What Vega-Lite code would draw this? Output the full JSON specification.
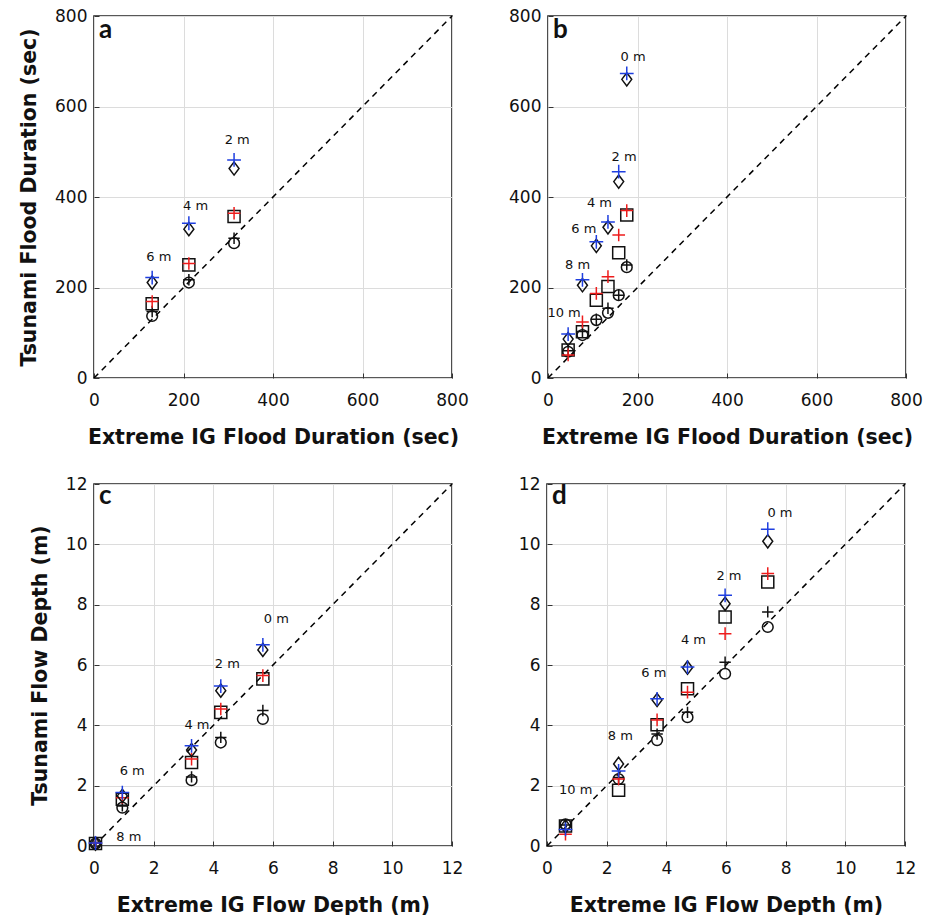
{
  "$schema": "https://vega.github.io/schema/vega-lite/v6.json",
  "padding": {"left": 18, "top": 6, "right": 5, "bottom": 5},
  "background": "white",
  "config": {
    "view": {"stroke": "#222", "strokeWidth": 1.6},
    "axis": {
      "labelFont": "DejaVu Sans", "labelFontSize": 17, "labelColor": "#111",
      "titleFont": "DejaVu Sans", "titleFontSize": 20.5, "titleFontWeight": "bold", "titleColor": "#111",
      "gridColor": "#dcdcdc", "gridWidth": 1, "domain": false,
      "ticks": true, "tickColor": "#333", "tickSize": -5, "tickWidth": 1,
      "labelFlush": false, "labelOverlap": false
    },
    "axisX": {"labelPadding": 19, "titlePadding": 19},
    "axisY": {"labelPadding": 12, "titlePadding": 15}
  },
  "datasets": {
    "diagA": [{"v": 0}, {"v": 800}],
    "diagC": [{"v": 0}, {"v": 12}],
    "pa": [
      {"ig": 313, "ts": 298, "s": "circle"}, {"ig": 313, "ts": 309, "s": "kplus"}, {"ig": 313, "ts": 357, "s": "square"}, {"ig": 313, "ts": 364, "s": "rplus"}, {"ig": 313, "ts": 463, "s": "diamond"}, {"ig": 313, "ts": 482, "s": "bplus"},
      {"ig": 212, "ts": 211, "s": "circle"}, {"ig": 212, "ts": 217, "s": "kplus"}, {"ig": 212, "ts": 250, "s": "square"}, {"ig": 212, "ts": 253, "s": "rplus"}, {"ig": 212, "ts": 329, "s": "diamond"}, {"ig": 212, "ts": 342, "s": "bplus"},
      {"ig": 130, "ts": 137, "s": "circle"}, {"ig": 130, "ts": 147, "s": "kplus"}, {"ig": 130, "ts": 164, "s": "square"}, {"ig": 130, "ts": 169, "s": "rplus"}, {"ig": 130, "ts": 211, "s": "diamond"}, {"ig": 130, "ts": 222, "s": "bplus"}
    ],
    "pb": [
      {"ig": 176, "ts": 245, "s": "circle"}, {"ig": 176, "ts": 250, "s": "kplus"}, {"ig": 176, "ts": 360, "s": "square"}, {"ig": 176, "ts": 370, "s": "rplus"}, {"ig": 176, "ts": 660, "s": "diamond"}, {"ig": 176, "ts": 673, "s": "bplus"},
      {"ig": 158, "ts": 183, "s": "circle"}, {"ig": 158, "ts": 183, "s": "kplus"}, {"ig": 158, "ts": 277, "s": "square"}, {"ig": 158, "ts": 316, "s": "rplus"}, {"ig": 158, "ts": 434, "s": "diamond"}, {"ig": 158, "ts": 456, "s": "bplus"},
      {"ig": 134, "ts": 144, "s": "circle"}, {"ig": 134, "ts": 154, "s": "kplus"}, {"ig": 134, "ts": 202, "s": "square"}, {"ig": 134, "ts": 224, "s": "rplus"}, {"ig": 134, "ts": 333, "s": "diamond"}, {"ig": 134, "ts": 345, "s": "bplus"},
      {"ig": 108, "ts": 128, "s": "circle"}, {"ig": 108, "ts": 130, "s": "kplus"}, {"ig": 108, "ts": 172, "s": "square"}, {"ig": 108, "ts": 187, "s": "rplus"}, {"ig": 108, "ts": 292, "s": "diamond"}, {"ig": 108, "ts": 301, "s": "bplus"},
      {"ig": 77, "ts": 95, "s": "circle"}, {"ig": 77, "ts": 103, "s": "kplus"}, {"ig": 77, "ts": 102, "s": "square"}, {"ig": 77, "ts": 124, "s": "rplus"}, {"ig": 77, "ts": 205, "s": "diamond"}, {"ig": 77, "ts": 217, "s": "bplus"},
      {"ig": 45, "ts": 58, "s": "circle"}, {"ig": 45, "ts": 60, "s": "kplus"}, {"ig": 45, "ts": 62, "s": "square"}, {"ig": 45, "ts": 51, "s": "rplus"}, {"ig": 45, "ts": 86, "s": "diamond"}, {"ig": 45, "ts": 97, "s": "bplus"}
    ],
    "pc": [
      {"ig": 5.66, "ts": 4.21, "s": "circle"}, {"ig": 5.66, "ts": 4.49, "s": "kplus"}, {"ig": 5.66, "ts": 5.54, "s": "square"}, {"ig": 5.66, "ts": 5.65, "s": "rplus"}, {"ig": 5.66, "ts": 6.5, "s": "diamond"}, {"ig": 5.66, "ts": 6.67, "s": "bplus"},
      {"ig": 4.25, "ts": 3.43, "s": "circle"}, {"ig": 4.25, "ts": 3.6, "s": "kplus"}, {"ig": 4.25, "ts": 4.43, "s": "square"}, {"ig": 4.25, "ts": 4.54, "s": "rplus"}, {"ig": 4.25, "ts": 5.15, "s": "diamond"}, {"ig": 4.25, "ts": 5.3, "s": "bplus"},
      {"ig": 3.27, "ts": 2.18, "s": "circle"}, {"ig": 3.27, "ts": 2.29, "s": "kplus"}, {"ig": 3.27, "ts": 2.77, "s": "square"}, {"ig": 3.27, "ts": 2.88, "s": "rplus"}, {"ig": 3.27, "ts": 3.18, "s": "diamond"}, {"ig": 3.27, "ts": 3.32, "s": "bplus"},
      {"ig": 0.95, "ts": 1.27, "s": "circle"}, {"ig": 0.95, "ts": 1.33, "s": "kplus"}, {"ig": 0.95, "ts": 1.55, "s": "square"}, {"ig": 0.95, "ts": 1.6, "s": "rplus"}, {"ig": 0.95, "ts": 1.66, "s": "diamond"}, {"ig": 0.95, "ts": 1.77, "s": "bplus"},
      {"ig": 0.05, "ts": 0.08, "s": "circle"}, {"ig": 0.05, "ts": 0.1, "s": "kplus"}, {"ig": 0.05, "ts": 0.08, "s": "square"}, {"ig": 0.05, "ts": 0.1, "s": "rplus"}, {"ig": 0.05, "ts": 0.08, "s": "diamond"}, {"ig": 0.05, "ts": 0.1, "s": "bplus"}
    ],
    "pd": [
      {"ig": 7.4, "ts": 7.26, "s": "circle"}, {"ig": 7.4, "ts": 7.76, "s": "kplus"}, {"ig": 7.4, "ts": 8.75, "s": "square"}, {"ig": 7.4, "ts": 9.03, "s": "rplus"}, {"ig": 7.4, "ts": 10.1, "s": "diamond"}, {"ig": 7.4, "ts": 10.5, "s": "bplus"},
      {"ig": 5.97, "ts": 5.71, "s": "circle"}, {"ig": 5.97, "ts": 6.09, "s": "kplus"}, {"ig": 5.97, "ts": 7.59, "s": "square"}, {"ig": 5.97, "ts": 7.04, "s": "rplus"}, {"ig": 5.97, "ts": 8.03, "s": "diamond"}, {"ig": 5.97, "ts": 8.31, "s": "bplus"},
      {"ig": 4.71, "ts": 4.27, "s": "circle"}, {"ig": 4.71, "ts": 4.43, "s": "kplus"}, {"ig": 4.71, "ts": 5.21, "s": "square"}, {"ig": 4.71, "ts": 5.1, "s": "rplus"}, {"ig": 4.71, "ts": 5.91, "s": "diamond"}, {"ig": 4.71, "ts": 5.93, "s": "bplus"},
      {"ig": 3.69, "ts": 3.51, "s": "circle"}, {"ig": 3.69, "ts": 3.71, "s": "kplus"}, {"ig": 3.69, "ts": 4.02, "s": "square"}, {"ig": 3.69, "ts": 4.18, "s": "rplus"}, {"ig": 3.69, "ts": 4.84, "s": "diamond"}, {"ig": 3.69, "ts": 4.88, "s": "bplus"},
      {"ig": 2.4, "ts": 2.22, "s": "circle"}, {"ig": 2.4, "ts": 2.27, "s": "kplus"}, {"ig": 2.4, "ts": 1.85, "s": "square"}, {"ig": 2.4, "ts": 2.22, "s": "rplus"}, {"ig": 2.4, "ts": 2.72, "s": "diamond"}, {"ig": 2.4, "ts": 2.49, "s": "bplus"},
      {"ig": 0.62, "ts": 0.72, "s": "circle"}, {"ig": 0.62, "ts": 0.7, "s": "kplus"}, {"ig": 0.62, "ts": 0.66, "s": "square"}, {"ig": 0.62, "ts": 0.39, "s": "rplus"}, {"ig": 0.62, "ts": 0.65, "s": "diamond"}, {"ig": 0.62, "ts": 0.55, "s": "bplus"}
    ],
    "la": [{"ig": 320, "ts": 525, "t": "2 m"}, {"ig": 227, "ts": 381, "t": "4 m"}, {"ig": 145, "ts": 268, "t": "6 m"}],
    "lb": [{"ig": 190, "ts": 710, "t": "0 m"}, {"ig": 170, "ts": 489, "t": "2 m"}, {"ig": 115, "ts": 386, "t": "4 m"}, {"ig": 80, "ts": 329, "t": "6 m"}, {"ig": 66, "ts": 250, "t": "8 m"}, {"ig": 36, "ts": 143, "t": "10 m"}],
    "lc": [{"ig": 6.11, "ts": 7.51, "t": "0 m"}, {"ig": 4.47, "ts": 6.04, "t": "2 m"}, {"ig": 3.45, "ts": 4.02, "t": "4 m"}, {"ig": 1.28, "ts": 2.49, "t": "6 m"}, {"ig": 1.17, "ts": 0.3, "t": "8 m"}],
    "ld": [{"ig": 7.81, "ts": 11.03, "t": "0 m"}, {"ig": 6.1, "ts": 8.94, "t": "2 m"}, {"ig": 4.91, "ts": 6.84, "t": "4 m"}, {"ig": 3.58, "ts": 5.73, "t": "6 m"}, {"ig": 2.46, "ts": 3.63, "t": "8 m"}, {"ig": 0.96, "ts": 1.85, "t": "10 m"}],
    "ta": [{"ig": 0, "ts": 800, "t": "a"}],
    "tb": [{"ig": 0, "ts": 800, "t": "b"}],
    "tc": [{"ig": 0, "ts": 12, "t": "c"}],
    "td": [{"ig": 0, "ts": 12, "t": "d"}]
  },
  "vconcat": [
    {
      "hconcat": [
        {
          "width": 358, "height": 362,
          "layer": [
            {"data": {"name": "diagA"}, "mark": {"type": "line", "color": "black", "strokeWidth": 1.5, "strokeDash": [6, 5]},
             "encoding": {"x": {"field": "v", "type": "quantitative", "scale": {"domain": [0, 800], "nice": false}, "axis": {"values": [0, 200, 400, 600, 800], "title": "Extreme IG Flood Duration (sec)"}},
                          "y": {"field": "v", "type": "quantitative", "scale": {"domain": [0, 800], "nice": false}, "axis": {"values": [0, 200, 400, 600, 800], "title": "Tsunami Flood Duration (sec)"}}}},
            {"data": {"name": "pa"}, "mark": {"type": "point", "filled": false, "strokeWidth": 1.5, "opacity": 1},
             "encoding": {"x": {"field": "ig", "type": "quantitative"}, "y": {"field": "ts", "type": "quantitative"},
                          "shape": {"field": "s", "type": "nominal", "legend": null, "scale": {"domain": ["circle", "kplus", "square", "rplus", "diamond", "bplus"], "range": ["circle", "M-1,0H1M0,-1V1", "square", "M-1,0H1M0,-1V1", "M-0.75,0L0,-1L0.75,0L0,1Z", "M-1,0H1M0,-1V1"]}},
                          "stroke": {"field": "s", "type": "nominal", "legend": null, "scale": {"domain": ["circle", "kplus", "square", "rplus", "diamond", "bplus"], "range": ["#111", "#111", "#111", "#ee1c1c", "#111", "#1f3fe0"]}},
                          "size": {"field": "s", "type": "nominal", "legend": null, "scale": {"domain": ["circle", "kplus", "square", "rplus", "diamond", "bplus"], "range": [115, 190, 90, 190, 170, 190]}}}},
            {"data": {"name": "la"}, "mark": {"type": "text", "font": "DejaVu Sans", "fontSize": 13, "color": "#111", "align": "center", "baseline": "middle"},
             "encoding": {"x": {"field": "ig", "type": "quantitative"}, "y": {"field": "ts", "type": "quantitative"}, "text": {"field": "t"}}},
            {"data": {"name": "ta"}, "mark": {"type": "text", "font": "Lato", "fontWeight": "bold", "fontSize": 26, "color": "#111", "align": "left", "baseline": "alphabetic", "dx": 5, "dy": 22},
             "encoding": {"x": {"field": "ig", "type": "quantitative"}, "y": {"field": "ts", "type": "quantitative"}, "text": {"field": "t"}}}
          ]
        },
        {
          "width": 358, "height": 362,
          "layer": [
            {"data": {"name": "diagA"}, "mark": {"type": "line", "color": "black", "strokeWidth": 1.5, "strokeDash": [6, 5]},
             "encoding": {"x": {"field": "v", "type": "quantitative", "scale": {"domain": [0, 800], "nice": false}, "axis": {"values": [0, 200, 400, 600, 800], "title": "Extreme IG Flood Duration (sec)"}},
                          "y": {"field": "v", "type": "quantitative", "scale": {"domain": [0, 800], "nice": false}, "axis": {"values": [0, 200, 400, 600, 800], "title": null}}}},
            {"data": {"name": "pb"}, "mark": {"type": "point", "filled": false, "strokeWidth": 1.5, "opacity": 1},
             "encoding": {"x": {"field": "ig", "type": "quantitative"}, "y": {"field": "ts", "type": "quantitative"},
                          "shape": {"field": "s", "type": "nominal", "legend": null, "scale": {"domain": ["circle", "kplus", "square", "rplus", "diamond", "bplus"], "range": ["circle", "M-1,0H1M0,-1V1", "square", "M-1,0H1M0,-1V1", "M-0.75,0L0,-1L0.75,0L0,1Z", "M-1,0H1M0,-1V1"]}},
                          "stroke": {"field": "s", "type": "nominal", "legend": null, "scale": {"domain": ["circle", "kplus", "square", "rplus", "diamond", "bplus"], "range": ["#111", "#111", "#111", "#ee1c1c", "#111", "#1f3fe0"]}},
                          "size": {"field": "s", "type": "nominal", "legend": null, "scale": {"domain": ["circle", "kplus", "square", "rplus", "diamond", "bplus"], "range": [115, 190, 90, 190, 170, 190]}}}},
            {"data": {"name": "lb"}, "mark": {"type": "text", "font": "DejaVu Sans", "fontSize": 13, "color": "#111", "align": "center", "baseline": "middle"},
             "encoding": {"x": {"field": "ig", "type": "quantitative"}, "y": {"field": "ts", "type": "quantitative"}, "text": {"field": "t"}}},
            {"data": {"name": "tb"}, "mark": {"type": "text", "font": "Lato", "fontWeight": "bold", "fontSize": 26, "color": "#111", "align": "left", "baseline": "alphabetic", "dx": 5, "dy": 22},
             "encoding": {"x": {"field": "ig", "type": "quantitative"}, "y": {"field": "ts", "type": "quantitative"}, "text": {"field": "t"}}}
          ]
        }
      ],
      "spacing": 37
    },
    {
      "hconcat": [
        {
          "width": 358, "height": 362,
          "layer": [
            {"data": {"name": "diagC"}, "mark": {"type": "line", "color": "black", "strokeWidth": 1.5, "strokeDash": [6, 5]},
             "encoding": {"x": {"field": "v", "type": "quantitative", "scale": {"domain": [0, 12], "nice": false}, "axis": {"values": [0, 2, 4, 6, 8, 10, 12], "title": "Extreme IG Flow Depth (m)"}},
                          "y": {"field": "v", "type": "quantitative", "scale": {"domain": [0, 12], "nice": false}, "axis": {"values": [0, 2, 4, 6, 8, 10, 12], "title": "Tsunami Flow Depth (m)"}}}},
            {"data": {"name": "pc"}, "mark": {"type": "point", "filled": false, "strokeWidth": 1.5, "opacity": 1},
             "encoding": {"x": {"field": "ig", "type": "quantitative"}, "y": {"field": "ts", "type": "quantitative"},
                          "shape": {"field": "s", "type": "nominal", "legend": null, "scale": {"domain": ["circle", "kplus", "square", "rplus", "diamond", "bplus"], "range": ["circle", "M-1,0H1M0,-1V1", "square", "M-1,0H1M0,-1V1", "M-0.75,0L0,-1L0.75,0L0,1Z", "M-1,0H1M0,-1V1"]}},
                          "stroke": {"field": "s", "type": "nominal", "legend": null, "scale": {"domain": ["circle", "kplus", "square", "rplus", "diamond", "bplus"], "range": ["#111", "#111", "#111", "#ee1c1c", "#111", "#1f3fe0"]}},
                          "size": {"field": "s", "type": "nominal", "legend": null, "scale": {"domain": ["circle", "kplus", "square", "rplus", "diamond", "bplus"], "range": [115, 190, 90, 190, 170, 190]}}}},
            {"data": {"name": "lc"}, "mark": {"type": "text", "font": "DejaVu Sans", "fontSize": 13, "color": "#111", "align": "center", "baseline": "middle"},
             "encoding": {"x": {"field": "ig", "type": "quantitative"}, "y": {"field": "ts", "type": "quantitative"}, "text": {"field": "t"}}},
            {"data": {"name": "tc"}, "mark": {"type": "text", "font": "Lato", "fontWeight": "bold", "fontSize": 26, "color": "#111", "align": "left", "baseline": "alphabetic", "dx": 5, "dy": 20},
             "encoding": {"x": {"field": "ig", "type": "quantitative"}, "y": {"field": "ts", "type": "quantitative"}, "text": {"field": "t"}}}
          ]
        },
        {
          "width": 358, "height": 362,
          "layer": [
            {"data": {"name": "diagC"}, "mark": {"type": "line", "color": "black", "strokeWidth": 1.5, "strokeDash": [6, 5]},
             "encoding": {"x": {"field": "v", "type": "quantitative", "scale": {"domain": [0, 12], "nice": false}, "axis": {"values": [0, 2, 4, 6, 8, 10, 12], "title": "Extreme IG Flow Depth (m)"}},
                          "y": {"field": "v", "type": "quantitative", "scale": {"domain": [0, 12], "nice": false}, "axis": {"values": [0, 2, 4, 6, 8, 10, 12], "title": null}}}},
            {"data": {"name": "pd"}, "mark": {"type": "point", "filled": false, "strokeWidth": 1.5, "opacity": 1},
             "encoding": {"x": {"field": "ig", "type": "quantitative"}, "y": {"field": "ts", "type": "quantitative"},
                          "shape": {"field": "s", "type": "nominal", "legend": null, "scale": {"domain": ["circle", "kplus", "square", "rplus", "diamond", "bplus"], "range": ["circle", "M-1,0H1M0,-1V1", "square", "M-1,0H1M0,-1V1", "M-0.75,0L0,-1L0.75,0L0,1Z", "M-1,0H1M0,-1V1"]}},
                          "stroke": {"field": "s", "type": "nominal", "legend": null, "scale": {"domain": ["circle", "kplus", "square", "rplus", "diamond", "bplus"], "range": ["#111", "#111", "#111", "#ee1c1c", "#111", "#1f3fe0"]}},
                          "size": {"field": "s", "type": "nominal", "legend": null, "scale": {"domain": ["circle", "kplus", "square", "rplus", "diamond", "bplus"], "range": [115, 190, 90, 190, 170, 190]}}}},
            {"data": {"name": "ld"}, "mark": {"type": "text", "font": "DejaVu Sans", "fontSize": 13, "color": "#111", "align": "center", "baseline": "middle"},
             "encoding": {"x": {"field": "ig", "type": "quantitative"}, "y": {"field": "ts", "type": "quantitative"}, "text": {"field": "t"}}},
            {"data": {"name": "td"}, "mark": {"type": "text", "font": "Lato", "fontWeight": "bold", "fontSize": 26, "color": "#111", "align": "left", "baseline": "alphabetic", "dx": 5, "dy": 20},
             "encoding": {"x": {"field": "ig", "type": "quantitative"}, "y": {"field": "ts", "type": "quantitative"}, "text": {"field": "t"}}}
          ]
        }
      ],
      "spacing": 53
    }
  ],
  "spacing": 25
}
